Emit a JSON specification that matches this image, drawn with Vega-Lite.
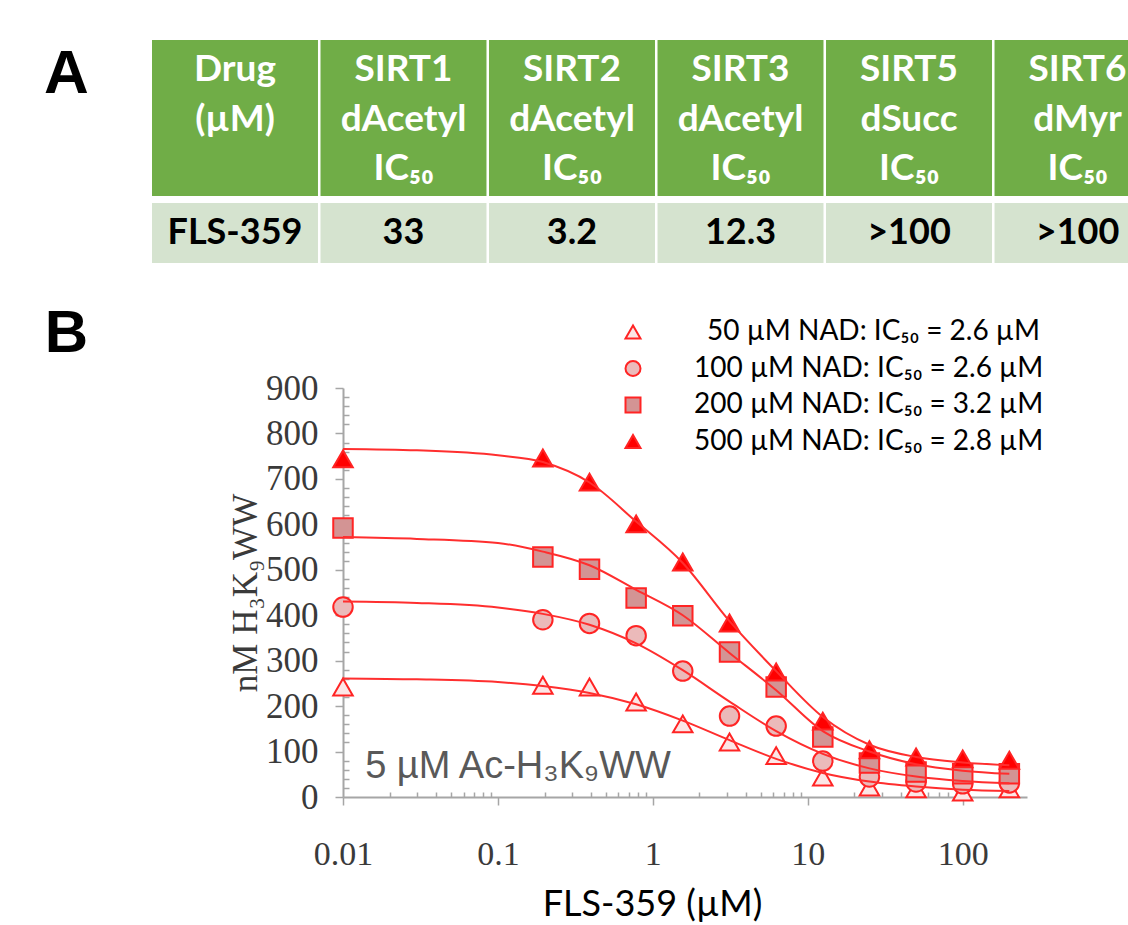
{
  "$schema": "https://vega.github.io/schema/vega-lite/v6.json",
  "autosize": "none",
  "padding": {"left": 343, "top": 388, "right": 101, "bottom": 128},
  "width": 684,
  "height": 409,
  "background": "white",
  "datasets": {
    "points": [
      {"series": "50 µM NAD: IC₅₀ = 2.6 µM", "conc": 0.01, "v": 242},
      {"series": "50 µM NAD: IC₅₀ = 2.6 µM", "conc": 0.195, "v": 246},
      {"series": "50 µM NAD: IC₅₀ = 2.6 µM", "conc": 0.39, "v": 242},
      {"series": "50 µM NAD: IC₅₀ = 2.6 µM", "conc": 0.78, "v": 209},
      {"series": "50 µM NAD: IC₅₀ = 2.6 µM", "conc": 1.56, "v": 161},
      {"series": "50 µM NAD: IC₅₀ = 2.6 µM", "conc": 3.125, "v": 121},
      {"series": "50 µM NAD: IC₅₀ = 2.6 µM", "conc": 6.25, "v": 91},
      {"series": "50 µM NAD: IC₅₀ = 2.6 µM", "conc": 12.5, "v": 44},
      {"series": "50 µM NAD: IC₅₀ = 2.6 µM", "conc": 25, "v": 22},
      {"series": "50 µM NAD: IC₅₀ = 2.6 µM", "conc": 50, "v": 18},
      {"series": "50 µM NAD: IC₅₀ = 2.6 µM", "conc": 100, "v": 11},
      {"series": "50 µM NAD: IC₅₀ = 2.6 µM", "conc": 200, "v": 18},
      {"series": "100 µM NAD: IC₅₀ = 2.6 µM", "conc": 0.01, "v": 418},
      {"series": "100 µM NAD: IC₅₀ = 2.6 µM", "conc": 0.195, "v": 390},
      {"series": "100 µM NAD: IC₅₀ = 2.6 µM", "conc": 0.39, "v": 382},
      {"series": "100 µM NAD: IC₅₀ = 2.6 µM", "conc": 0.78, "v": 355},
      {"series": "100 µM NAD: IC₅₀ = 2.6 µM", "conc": 1.56, "v": 277},
      {"series": "100 µM NAD: IC₅₀ = 2.6 µM", "conc": 3.125, "v": 178},
      {"series": "100 µM NAD: IC₅₀ = 2.6 µM", "conc": 6.25, "v": 156},
      {"series": "100 µM NAD: IC₅₀ = 2.6 µM", "conc": 12.5, "v": 79},
      {"series": "100 µM NAD: IC₅₀ = 2.6 µM", "conc": 25, "v": 44},
      {"series": "100 µM NAD: IC₅₀ = 2.6 µM", "conc": 50, "v": 33},
      {"series": "100 µM NAD: IC₅₀ = 2.6 µM", "conc": 100, "v": 29},
      {"series": "100 µM NAD: IC₅₀ = 2.6 µM", "conc": 200, "v": 31},
      {"series": "200 µM NAD: IC₅₀ = 3.2 µM", "conc": 0.01, "v": 592},
      {"series": "200 µM NAD: IC₅₀ = 3.2 µM", "conc": 0.195, "v": 528},
      {"series": "200 µM NAD: IC₅₀ = 3.2 µM", "conc": 0.39, "v": 501},
      {"series": "200 µM NAD: IC₅₀ = 3.2 µM", "conc": 0.78, "v": 438},
      {"series": "200 µM NAD: IC₅₀ = 3.2 µM", "conc": 1.56, "v": 399},
      {"series": "200 µM NAD: IC₅₀ = 3.2 µM", "conc": 3.125, "v": 319},
      {"series": "200 µM NAD: IC₅₀ = 3.2 µM", "conc": 6.25, "v": 242},
      {"series": "200 µM NAD: IC₅₀ = 3.2 µM", "conc": 12.5, "v": 132},
      {"series": "200 µM NAD: IC₅₀ = 3.2 µM", "conc": 25, "v": 75},
      {"series": "200 µM NAD: IC₅₀ = 3.2 µM", "conc": 50, "v": 55},
      {"series": "200 µM NAD: IC₅₀ = 3.2 µM", "conc": 100, "v": 51},
      {"series": "200 µM NAD: IC₅₀ = 3.2 µM", "conc": 200, "v": 51},
      {"series": "500 µM NAD: IC₅₀ = 2.8 µM", "conc": 0.01, "v": 744},
      {"series": "500 µM NAD: IC₅₀ = 2.8 µM", "conc": 0.195, "v": 746},
      {"series": "500 µM NAD: IC₅₀ = 2.8 µM", "conc": 0.39, "v": 693},
      {"series": "500 µM NAD: IC₅₀ = 2.8 µM", "conc": 0.78, "v": 601},
      {"series": "500 µM NAD: IC₅₀ = 2.8 µM", "conc": 1.56, "v": 517},
      {"series": "500 µM NAD: IC₅₀ = 2.8 µM", "conc": 3.125, "v": 383},
      {"series": "500 µM NAD: IC₅₀ = 2.8 µM", "conc": 6.25, "v": 275},
      {"series": "500 µM NAD: IC₅₀ = 2.8 µM", "conc": 12.5, "v": 167},
      {"series": "500 µM NAD: IC₅₀ = 2.8 µM", "conc": 25, "v": 104},
      {"series": "500 µM NAD: IC₅₀ = 2.8 µM", "conc": 50, "v": 88},
      {"series": "500 µM NAD: IC₅₀ = 2.8 µM", "conc": 100, "v": 84},
      {"series": "500 µM NAD: IC₅₀ = 2.8 µM", "conc": 200, "v": 81}
    ],
    "curves": [
      {"series": "50", "conc": 0.01, "v": 261},
      {"series": "50", "conc": 0.03, "v": 259},
      {"series": "50", "conc": 0.1, "v": 253},
      {"series": "50", "conc": 0.195, "v": 244},
      {"series": "50", "conc": 0.39, "v": 229},
      {"series": "50", "conc": 0.78, "v": 204},
      {"series": "50", "conc": 1.56, "v": 168},
      {"series": "50", "conc": 3.125, "v": 125},
      {"series": "50", "conc": 6.25, "v": 84},
      {"series": "50", "conc": 12.5, "v": 53},
      {"series": "50", "conc": 25, "v": 34},
      {"series": "50", "conc": 50, "v": 23},
      {"series": "50", "conc": 100, "v": 16},
      {"series": "50", "conc": 200, "v": 13},
      {"series": "100", "conc": 0.01, "v": 430},
      {"series": "100", "conc": 0.03, "v": 427},
      {"series": "100", "conc": 0.1, "v": 417},
      {"series": "100", "conc": 0.195, "v": 403},
      {"series": "100", "conc": 0.39, "v": 379},
      {"series": "100", "conc": 0.78, "v": 338},
      {"series": "100", "conc": 1.56, "v": 279},
      {"series": "100", "conc": 3.125, "v": 210},
      {"series": "100", "conc": 6.25, "v": 145},
      {"series": "100", "conc": 12.5, "v": 95},
      {"series": "100", "conc": 25, "v": 63},
      {"series": "100", "conc": 50, "v": 45},
      {"series": "100", "conc": 100, "v": 35},
      {"series": "100", "conc": 200, "v": 30},
      {"series": "200", "conc": 0.01, "v": 572},
      {"series": "200", "conc": 0.03, "v": 568},
      {"series": "200", "conc": 0.1, "v": 559},
      {"series": "200", "conc": 0.195, "v": 540},
      {"series": "200", "conc": 0.39, "v": 510},
      {"series": "200", "conc": 0.78, "v": 456},
      {"series": "200", "conc": 1.56, "v": 400},
      {"series": "200", "conc": 3.125, "v": 317},
      {"series": "200", "conc": 6.25, "v": 235},
      {"series": "200", "conc": 12.5, "v": 145},
      {"series": "200", "conc": 25, "v": 100},
      {"series": "200", "conc": 50, "v": 72},
      {"series": "200", "conc": 100, "v": 58},
      {"series": "200", "conc": 200, "v": 51},
      {"series": "500", "conc": 0.01, "v": 766},
      {"series": "500", "conc": 0.03, "v": 763},
      {"series": "500", "conc": 0.1, "v": 752},
      {"series": "500", "conc": 0.195, "v": 737},
      {"series": "500", "conc": 0.39, "v": 692},
      {"series": "500", "conc": 0.78, "v": 606},
      {"series": "500", "conc": 1.56, "v": 515},
      {"series": "500", "conc": 3.125, "v": 387},
      {"series": "500", "conc": 6.25, "v": 277},
      {"series": "500", "conc": 12.5, "v": 176},
      {"series": "500", "conc": 25, "v": 115},
      {"series": "500", "conc": 50, "v": 88},
      {"series": "500", "conc": 100, "v": 76},
      {"series": "500", "conc": 200, "v": 70}
    ],
    "note": [
      {"conc": 0.0139, "v": 42, "label": "5 µM Ac-H₃K₉WW"}
    ],
    "table": [
      {"col": "Drug", "row": "header", "text": "Drug\n(µM)\n "},
      {"col": "SIRT1", "row": "header", "text": "SIRT1\ndAcetyl\nIC₅₀"},
      {"col": "SIRT2", "row": "header", "text": "SIRT2\ndAcetyl\nIC₅₀"},
      {"col": "SIRT3", "row": "header", "text": "SIRT3\ndAcetyl\nIC₅₀"},
      {"col": "SIRT5", "row": "header", "text": "SIRT5\ndSucc\nIC₅₀"},
      {"col": "SIRT6", "row": "header", "text": "SIRT6\ndMyr\nIC₅₀"},
      {"col": "Drug", "row": "value", "text": "FLS-359"},
      {"col": "SIRT1", "row": "value", "text": "33"},
      {"col": "SIRT2", "row": "value", "text": "3.2"},
      {"col": "SIRT3", "row": "value", "text": "12.3"},
      {"col": "SIRT5", "row": "value", "text": ">100"},
      {"col": "SIRT6", "row": "value", "text": ">100"}
    ],
    "panels": [
      {"col": "panel", "row": "header", "label": "A"},
      {"col": "panel", "row": "chart", "label": "B"}
    ]
  },
  "layer": [
    {
      "encoding": {
        "x": {
          "field": "conc", "type": "quantitative",
          "scale": {"type": "log", "domain": [0.01, 260], "nice": false},
          "axis": {
            "orient": "bottom",
            "title": "FLS-359 (µM)",
            "titleX": 309,
            "values": [0.01,0.02,0.03,0.04,0.05,0.06,0.07,0.08,0.09,0.1,0.2,0.3,0.4,0.5,0.6,0.7,0.8,0.9,1,2,3,4,5,6,7,8,9,10,20,30,40,50,60,70,80,90,100,200],
            "format": "~g",
            "labelExpr": "abs(log(datum.value)/LN10 - round(log(datum.value)/LN10)) < 0.001 ? datum.label : ''",
            "tickSize": {"condition": {"test": "abs(log(datum.value)/LN10 - round(log(datum.value)/LN10)) < 0.001", "value": 8}, "value": -5},
            "labelPadding": 32,
            "labelOverlap": false,
            "labelFlush": false,
            "labelBound": false,
            "grid": false,
            "labelFont": "Liberation Serif", "labelFontSize": 34, "labelColor": "#3a3a3a",
            "domainColor": "#A6A6A6", "domainWidth": 2,
            "tickColor": "#A6A6A6", "tickWidth": 1.5,
            "titleFont": "Lato", "titleFontSize": 36, "titleFontWeight": "normal", "titleColor": "#000000",
            "titlePadding": 16
          }
        },
        "y": {
          "field": "v", "type": "quantitative",
          "scale": {"domain": [0, 900], "nice": false},
          "axis": {
            "orient": "left",
            "title": "nM H₃K₉WW",
            "values": [0,20,40,60,80,100,120,140,160,180,200,220,240,260,280,300,320,340,360,380,400,420,440,460,480,500,520,540,560,580,600,620,640,660,680,700,720,740,760,780,800,820,840,860,880,900],
            "labelExpr": "datum.value % 100 === 0 ? datum.label : ''",
            "tickSize": {"condition": {"test": "datum.value % 100 === 0", "value": 8}, "value": -6},
            "labelPadding": 17,
            "labelOverlap": false,
            "labelFlush": false,
            "labelBound": false,
            "grid": false,
            "labelFont": "Liberation Serif", "labelFontSize": 35, "labelColor": "#3a3a3a",
            "domainColor": "#A6A6A6", "domainWidth": 2,
            "tickColor": "#A6A6A6", "tickWidth": 1.5,
            "titleFont": "Liberation Serif", "titleFontSize": 35, "titleFontWeight": "normal", "titleColor": "#3a3a3a",
            "titlePadding": 2
          }
        }
      },
      "layer": [
        {
          "data": {"name": "points"},
          "mark": {"type": "point", "filled": true, "size": 380, "strokeWidth": 2, "opacity": 1},
          "encoding": {
            "fill": {
              "field": "series", "type": "nominal",
              "scale": {"domain": ["50 µM NAD: IC₅₀ = 2.6 µM", "100 µM NAD: IC₅₀ = 2.6 µM", "200 µM NAD: IC₅₀ = 3.2 µM", "500 µM NAD: IC₅₀ = 2.8 µM"], "range": ["#FCE6E6", "#EBBABA", "#D39494", "#FF0000"]},
              "legend": {"title": null, "labelOffset": {"expr": "datum.value === '50 µM NAD: IC₅₀ = 2.6 µM' ? 60 : 47"}}
            },
            "shape": {
              "field": "series", "type": "nominal",
              "scale": {"domain": ["50 µM NAD: IC₅₀ = 2.6 µM", "100 µM NAD: IC₅₀ = 2.6 µM", "200 µM NAD: IC₅₀ = 3.2 µM", "500 µM NAD: IC₅₀ = 2.8 µM"], "range": ["triangle-up", "circle", "square", "triangle-up"]},
              "legend": {"title": null, "labelOffset": {"expr": "datum.value === '50 µM NAD: IC₅₀ = 2.6 µM' ? 60 : 47"}}
            },
            "stroke": {
              "field": "series", "type": "nominal",
              "scale": {"domain": ["50 µM NAD: IC₅₀ = 2.6 µM", "100 µM NAD: IC₅₀ = 2.6 µM", "200 µM NAD: IC₅₀ = 3.2 µM", "500 µM NAD: IC₅₀ = 2.8 µM"], "range": ["#FF2424", "#FF2424", "#FF2424", "#FF2424"]},
              "legend": {"title": null, "labelOffset": {"expr": "datum.value === '50 µM NAD: IC₅₀ = 2.6 µM' ? 60 : 47"}}
            }
          }
        },
        {
          "data": {"name": "curves"},
          "mark": {"type": "line", "interpolate": "monotone", "stroke": "#FF2E2E", "strokeWidth": 2},
          "encoding": {
            "detail": {"field": "series", "type": "nominal"}
          }
        },
        {
          "data": {"name": "note"},
          "mark": {"type": "text", "align": "left", "baseline": "alphabetic", "font": "Liberation Sans", "fontSize": 38, "color": "#595959"},
          "encoding": {
            "text": {"field": "label", "type": "nominal"}
          }
        }
      ]
    },
    {
      "encoding": {
        "x": {
          "field": "col", "type": "nominal",
          "scale": {"type": "band", "domain": ["panel", "Drug", "SIRT1", "SIRT2", "SIRT3", "SIRT5", "SIRT6"], "range": [-359.5, 817.5], "paddingInner": 0.015, "paddingOuter": 0},
          "axis": null
        },
        "y": {
          "field": "row", "type": "nominal",
          "scale": {"type": "band", "domain": ["header", "value", "chart"], "range": [-327.5, 17.5], "paddingInner": 0, "paddingOuter": 0},
          "axis": null
        }
      },
      "layer": [
        {
          "data": {"name": "table"},
          "transform": [{"filter": "datum.row === 'header'"}],
          "mark": {"type": "rect", "height": 156, "fill": "#70AD47"}
        },
        {
          "data": {"name": "table"},
          "transform": [{"filter": "datum.row === 'value'"}],
          "mark": {"type": "rect", "height": 60, "fill": "#D5E3CF"}
        },
        {
          "data": {"name": "table"},
          "transform": [{"filter": "datum.row === 'header'"}],
          "mark": {"type": "text", "font": "Lato", "fontWeight": "bold", "fontSize": 37, "color": "#FFFFFF", "lineBreak": "\n", "lineHeight": 49.5, "align": "center", "baseline": "middle", "dy": -48},
          "encoding": {"text": {"field": "text", "type": "nominal"}}
        },
        {
          "data": {"name": "table"},
          "transform": [{"filter": "datum.row === 'value'"}],
          "mark": {"type": "text", "font": "Lato", "fontWeight": "bold", "fontSize": 36, "color": "#000000", "align": "center", "baseline": "middle"},
          "encoding": {"text": {"field": "text", "type": "nominal"}}
        },
        {
          "data": {"name": "panels"},
          "transform": [{"filter": "datum.label === 'A'"}],
          "mark": {"type": "text", "font": "Liberation Sans", "fontWeight": "bold", "fontSize": 62, "color": "#000000", "align": "center", "baseline": "middle", "dy": -44},
          "encoding": {"text": {"field": "label", "type": "nominal"}}
        },
        {
          "data": {"name": "panels"},
          "transform": [{"filter": "datum.label === 'B'"}],
          "mark": {"type": "text", "font": "Liberation Sans", "fontWeight": "bold", "fontSize": 60, "color": "#000000", "align": "center", "baseline": "middle", "dy": -14},
          "encoding": {"text": {"field": "label", "type": "nominal"}}
        }
      ]
    }
  ],
  "resolve": {"scale": {"x": "independent", "y": "independent"}},
  "config": {
    "view": {"stroke": null},
    "legend": {
      "orient": "none",
      "legendX": 276,
      "legendY": -70,
      "padding": 0,
      "labelFont": "Lato",
      "labelFontSize": 28,
      "labelColor": "#000000",
      "labelLimit": 600,
      "symbolSize": 225,
      "symbolStrokeWidth": 2,
      "rowPadding": 8.5
    }
  }
}
